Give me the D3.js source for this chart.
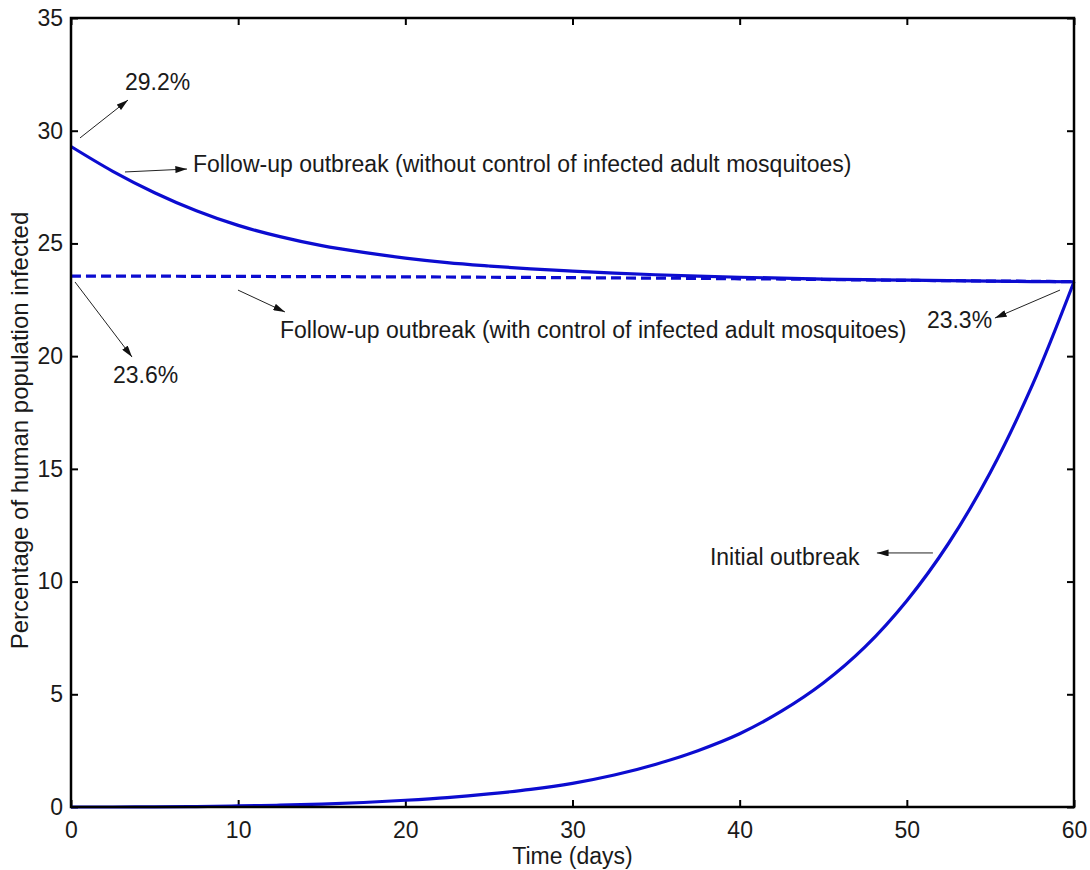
<!DOCTYPE html>
<html>
<head>
<meta charset="utf-8">
<script src="https://d3js.org/d3.v7.min.js"></script>
<style>
  body { margin: 0; background: #fff; }
  text { font-family: "Liberation Sans", Arial, sans-serif; fill: #1a1a1a; }
</style>
</head>
<body>
<div class="chart"></div>
<script>
// 数据：时间（天）和三条曲线（人口感染百分比）
const days = [0, 2.5, 5, 7.5, 10, 12.5, 15, 17.5, 20, 22.5, 25, 27.5, 30, 32.5, 35, 37.5, 40, 42.5, 45, 47.5, 50, 52.5, 55, 57.5, 60]
const initialOutbreak = [0, 0, 0.01, 0.02, 0.05, 0.08, 0.13, 0.2, 0.3, 0.42, 0.58, 0.78, 1.05, 1.42, 1.9, 2.5, 3.25, 4.25, 5.5, 7.1, 9.15, 11.7, 14.85, 18.7, 23.3]
const followUpNoControl = [29.3, 28.2, 27.25, 26.45, 25.8, 25.3, 24.9, 24.6, 24.35, 24.15, 24.0, 23.87, 23.77, 23.68, 23.61, 23.55, 23.5, 23.46, 23.42, 23.39, 23.37, 23.35, 23.33, 23.31, 23.3]
const followUpControl = [23.55, 23.55, 23.55, 23.54, 23.54, 23.53, 23.53, 23.52, 23.52, 23.51, 23.5, 23.49, 23.48, 23.47, 23.46, 23.45, 23.43, 23.42, 23.4, 23.38, 23.36, 23.35, 23.33, 23.32, 23.3]

const xTicks = [0, 10, 20, 30, 40, 50, 60]
const yTicks = [0, 5, 10, 15, 20, 25, 30, 35]

// 注释：文字位置和箭头（数据坐标）
const notes = [
  {text: '29.2%', at: [3.23, 31.8], from: [0.54, 29.68], to: [3.41, 31.36]},
  {text: 'Follow-up outbreak (without control of infected adult mosquitoes)', at: [7.3, 28.17], from: [3.23, 28.17], to: [6.94, 28.3]},
  {text: 'Follow-up outbreak (with control of infected adult mosquitoes)', at: [12.5, 20.8], from: [9.99, 22.93], to: [12.8, 21.96]},
  {text: '23.6%', at: [2.51, 18.81], from: [0.24, 23.29], to: [3.65, 19.96]},
  {text: '23.3%', at: [51.2, 21.25], from: [59.16, 22.93], to: [55.27, 21.69]},
  {text: 'Initial outbreak', at: [38.22, 10.73], from: [51.56, 11.27], to: [48.21, 11.27]}
]

const margin = {top: 18, right: 16, bottom: 63, left: 71}
const width = 1090 - margin.left - margin.right
const height = 870 - margin.top - margin.bottom

const svg = d3.select('.chart')
  .append('svg')
    .attr('width', width + margin.left + margin.right)
    .attr('height', height + margin.top + margin.bottom)
  .append('g')
    .attr('transform', `translate(${margin.left}, ${margin.top})`)

svg.append('defs').append('marker')
    .attr('id', 'head')
    .attr('viewBox', '0 0 10 6')
    .attr('refX', 10)
    .attr('refY', 3)
    .attr('markerWidth', 12)
    .attr('markerHeight', 7)
    .attr('markerUnits', 'userSpaceOnUse')
    .attr('orient', 'auto')
  .append('path')
    .attr('d', 'M0,0 L10,3 L0,6 Z')
    .attr('fill', '#111')

const xScale = d3.scaleLinear().domain([0, 60]).range([0, width])
const yScale = d3.scaleLinear().domain([0, 35]).range([height, 0])

// 四个方向的刻度都朝内
const tickLen = 7
svg.append('g')
    .attr('class', 'axis')
    .attr('transform', `translate(0, ${height})`)
    .call(d3.axisBottom(xScale).tickValues(xTicks).tickSizeInner(-tickLen).tickSizeOuter(0).tickPadding(15))
svg.append('g')
    .attr('class', 'axis')
    .call(d3.axisLeft(yScale).tickValues(yTicks).tickSizeInner(-tickLen).tickSizeOuter(0).tickPadding(8))
svg.append('g')
    .attr('class', 'axis')
    .call(d3.axisTop(xScale).tickValues(xTicks).tickSizeInner(-tickLen).tickSizeOuter(0).tickFormat(''))
svg.append('g')
    .attr('class', 'axis')
    .attr('transform', `translate(${width}, 0)`)
    .call(d3.axisRight(yScale).tickValues(yTicks).tickSizeInner(-tickLen).tickSizeOuter(0).tickFormat(''))

svg.selectAll('.axis .domain').remove()
svg.selectAll('.axis line').attr('stroke', '#000').attr('stroke-width', 2)
svg.selectAll('.axis text')
    .style('font-size', '23px')
    .style('font-family', '"Liberation Sans", Arial, sans-serif')
    .attr('fill', '#1a1a1a')

const line = d3.line()
  .x((d, i) => xScale(days[i]))
  .y(d => yScale(d))
  .curve(d3.curveCatmullRom.alpha(0.5))

svg.append('path')
    .datum(followUpControl)
    .attr('d', line)
    .attr('fill', 'none')
    .attr('stroke', '#0c0cd0')
    .attr('stroke-width', 3.2)
    .attr('stroke-dasharray', '10,5')

svg.append('path')
    .datum(followUpNoControl)
    .attr('d', line)
    .attr('fill', 'none')
    .attr('stroke', '#0c0cd0')
    .attr('stroke-width', 3.2)

svg.append('path')
    .datum(initialOutbreak)
    .attr('d', line)
    .attr('fill', 'none')
    .attr('stroke', '#0c0cd0')
    .attr('stroke-width', 3.2)

// 外框
svg.append('rect')
    .attr('width', width)
    .attr('height', height)
    .attr('fill', 'none')
    .attr('stroke', '#000')
    .attr('stroke-width', 2.5)

const note = svg.selectAll('.note')
  .data(notes)
  .enter()
  .append('g')
    .attr('class', 'note')

note.append('line')
    .attr('x1', d => xScale(d.from[0]))
    .attr('y1', d => yScale(d.from[1]))
    .attr('x2', d => xScale(d.to[0]))
    .attr('y2', d => yScale(d.to[1]))
    .attr('stroke', '#222')
    .attr('stroke-width', 1)
    .attr('marker-end', 'url(#head)')

note.append('text')
    .attr('x', d => xScale(d.at[0]))
    .attr('y', d => yScale(d.at[1]))
    .style('font-size', '23px')
    .text(d => d.text)

svg.append('text')
    .attr('x', width / 2)
    .attr('y', height + 57)
    .style('text-anchor', 'middle')
    .style('font-size', '23px')
    .text('Time (days)')

svg.append('text')
    .attr('transform', `translate(${28 - margin.left}, ${height / 2 + 18}) rotate(-90)`)
    .style('text-anchor', 'middle')
    .style('font-size', '24px')
    .text('Percentage of human population infected')
</script>
</body>
</html>
